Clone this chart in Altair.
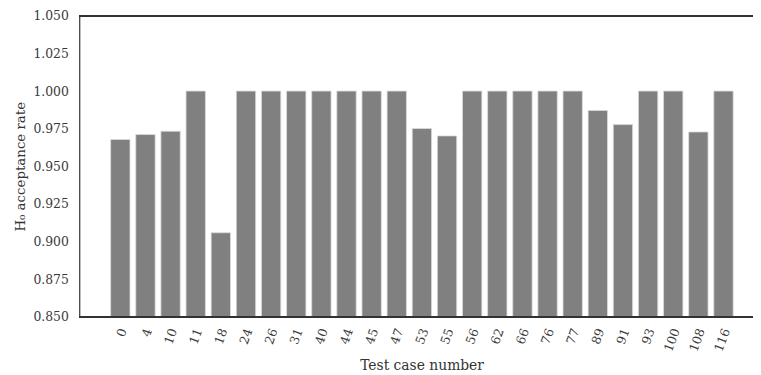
import altair as alt
import pandas as pd

cases = ["0", "4", "10", "11", "18", "24", "26", "31", "40", "44", "45", "47", "53",
         "55", "56", "62", "66", "76", "77", "89", "91", "93", "100", "108", "116"]
rates = [0.9678, 0.9711, 0.9733, 1.0, 0.9058, 1.0, 1.0, 1.0, 1.0, 1.0, 1.0, 1.0, 0.9751,
         0.9702, 1.0, 1.0, 1.0, 1.0, 1.0, 0.9871, 0.9777, 1.0, 1.0, 0.9728, 1.0]
y_ticks = [0.85, 0.875, 0.9, 0.925, 0.95, 0.975, 1.0, 1.025, 1.05]

df = pd.DataFrame({"case": cases, "rate": rates})

W, H = 681, 304
FONT = "DejaVu Serif"
DARK = "#333333"

bars = alt.Chart(df).mark_bar(color="#808080", stroke="#dcdcdc", strokeWidth=0.8).encode(
    x=alt.X("case:N", sort=cases,
            scale=alt.Scale(range=[31.75, 660.95], paddingInner=0.23, paddingOuter=0,
                            round=False),
            axis=alt.Axis(title="Test case number", labelAngle=290, labelAlign="right",
                          labelBaseline="middle", labelPadding=12, labelOffset=3,
                          labelFontSize=12.5,
                          titleX=346, titleY=53, titleBaseline="alphabetic",
                          titleAlign="center", titleFontSize=14)),
    y=alt.Y("rate:Q", scale=alt.Scale(domain=[0.85, 1.05], zero=False, nice=False),
            axis=alt.Axis(title="H₀ acceptance rate", values=y_ticks, format=".3f",
                          labelFontSize=12.5, labelPadding=11, titleFontSize=13.5,
                          titleX=-59, titleY=152, titleBaseline="middle",
                          titleAlign="center", titleAngle=270)),
    y2=alt.datum(0.85),
)

top = alt.Chart(df).mark_rule(color=DARK, strokeWidth=1.2).encode(
    x=alt.value(0), x2=alt.value(W), y=alt.value(0)
)

bottom = alt.Chart(df).mark_rule(color=DARK, strokeWidth=1.2).encode(
    x=alt.value(0), x2=alt.value(W), y=alt.value(H)
)

chart = alt.layer(bars, top, bottom).properties(
    width=W, height=H,
    autosize=alt.AutoSizeParams(type="none"),
    padding={"left": 72, "top": 6, "right": 0, "bottom": 56},
).configure_view(stroke=None).configure_axis(
    grid=False, ticks=False, domainColor=DARK, domainWidth=1.2,
    labelFont=FONT, titleFont=FONT, labelColor="#3a3a3a", titleColor=DARK,
    titleFontWeight="normal",
)

chart.save("out.html", embed_options={"renderer": "svg", "actions": False})
